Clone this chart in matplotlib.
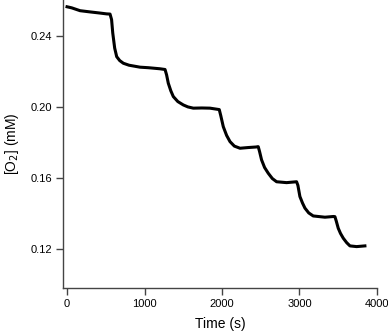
import numpy as np
import matplotlib.pyplot as plt

plt.rcParams['font.family'] = ['Liberation Sans', 'DejaVu Sans']

# values
time_s = [0, 60, 168, 300, 420, 512, 555, 575, 590, 615, 641, 680, 727, 800, 942, 1050,
          1200, 1265, 1285, 1307, 1340, 1372, 1430, 1501, 1560, 1630, 1740, 1845, 1965,
          1985, 2017, 2060, 2104, 2160, 2233, 2339, 2440, 2468, 2485, 2511, 2550, 2597,
          2650, 2705, 2834, 2963, 2980, 3006, 3040, 3071, 3120, 3178, 3329, 3440, 3458,
          3475, 3501, 3530, 3566, 3610, 3652, 3738, 3845]
o2_mM = [0.2562, 0.2556, 0.2540, 0.2533, 0.2527, 0.2522, 0.2521, 0.2490, 0.2415, 0.2330,
         0.2282, 0.2260, 0.2245, 0.2234, 0.2223, 0.2220, 0.2214, 0.2210, 0.2180, 0.2133,
         0.2090, 0.2058, 0.2030, 0.2011, 0.2000, 0.1993, 0.1994, 0.1993, 0.1985, 0.1950,
         0.1889, 0.1840, 0.1805, 0.1780, 0.1768, 0.1772, 0.1775, 0.1777, 0.1750, 0.1703,
         0.1660, 0.1628, 0.1598, 0.1580, 0.1575, 0.1580, 0.1560, 0.1497, 0.1460, 0.1432,
         0.1405, 0.1388, 0.1381, 0.1385, 0.1384, 0.1360, 0.1319, 0.1290, 0.1263, 0.1238,
         0.1220, 0.1216, 0.1220]

xticks = [0, 1000, 2000, 3000, 4000]
yticks = [0.12, 0.16, 0.20, 0.24]

fig = plt.figure(figsize=(3.88, 3.35), dpi=100)
ax = fig.add_axes([0.1624, 0.141, 0.809, 0.859])
ax.plot(time_s, o2_mM, color='black', lw=2.2, solid_joinstyle='round')

ax.set_xlim(-52, 4000)
ax.set_ylim(0.0985, 0.26)
ax.set_xticks(xticks)
ax.set_xticklabels([str(t) for t in xticks])
ax.set_yticks(yticks)
ax.set_yticklabels([f"{v:.2f}" for v in yticks])

for s in ['top', 'right']:
    ax.spines[s].set_visible(False)
for s in ['left', 'bottom']:
    ax.spines[s].set_color('#444444')
    ax.spines[s].set_linewidth(1.0)
ax.tick_params(direction='out', length=5, width=1.0, color='#444444', labelsize=8, pad=3)

ax.set_xlabel('Time (s)', fontsize=10, labelpad=6)
ax.set_ylabel('[O$_2$] (mM)', fontsize=10, labelpad=7)

fig.savefig('out.png', dpi=100)
